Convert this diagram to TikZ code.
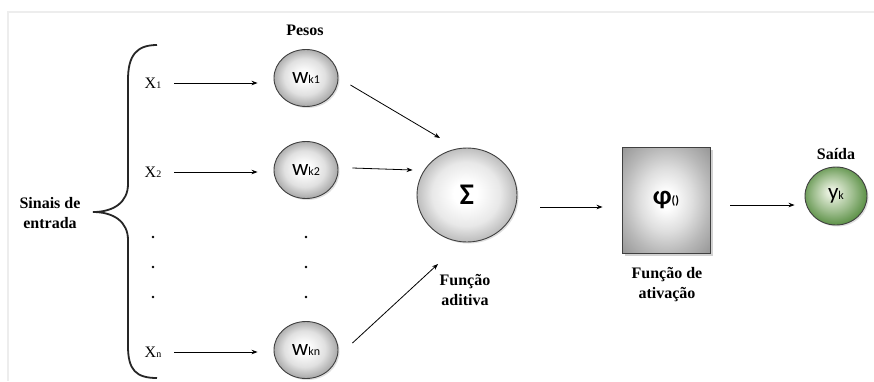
\documentclass[tikz,border=0pt]{standalone}
\usepackage{fontspec}
\setmainfont{Liberation Serif}
\newfontfamily\calibf{Carlito}
\usetikzlibrary{shapes.geometric,shadows,calc,arrows.meta}
\pgfdeclareradialshading{grayball}{\pgfpoint{-2bp}{2bp}}{%
  color(0bp)=(white); color(4bp)=(white); color(16bp)=(black!12); color(25bp)=(black!33); color(35bp)=(black!33)}
\pgfdeclareradialshading{sumball}{\pgfpoint{-1bp}{1bp}}{%
  color(0bp)=(white); color(6bp)=(white); color(17bp)=(black!9); color(25bp)=(black!26); color(35bp)=(black!26)}
\pgfdeclareradialshading{grayrect}{\pgfpoint{0bp}{0bp}}{%
  color(0bp)=(white); color(4bp)=(white); color(15bp)=(black!13); color(25bp)=(black!28); color(36bp)=(black!42)}
\definecolor{gdark}{RGB}{82,138,60}
\definecolor{glight}{RGB}{232,240,222}
\pgfdeclareradialshading{greenball}{\pgfpoint{-4bp}{4bp}}{%
  color(0bp)=(glight); color(3bp)=(glight); color(16bp)=(gdark!50!glight); color(28bp)=(gdark); color(40bp)=(gdark)}
\tikzset{
  lab/.style={font=\fontsize{16}{20}\selectfont\bfseries, align=center, inner sep=0pt},
  xl/.style={font=\fontsize{16}{18}\selectfont, inner sep=0pt},
  wnode/.style={ellipse, draw=black!75, line width=0.9pt, minimum width=64pt, minimum height=57pt, inner sep=0pt,
    shading=grayball, drop shadow={opacity=0.25, shadow xshift=1.5pt, shadow yshift=-1.5pt},
    font=\calibf\fontsize{23}{23}\selectfont},
  sumnode/.style={ellipse, draw=black!75, line width=0.9pt, minimum width=100pt, minimum height=94pt, inner sep=0pt,
    shading=sumball, drop shadow={opacity=0.25, shadow xshift=1.5pt, shadow yshift=-1.5pt},
    font=\calibf\bfseries\fontsize{30}{30}\selectfont},
  boxnode/.style={rectangle, draw=black!75, line width=0.9pt, minimum width=88pt, minimum height=106pt, inner sep=0pt,
    shading=grayrect, drop shadow={opacity=0.35, shadow xshift=2.5pt, shadow yshift=-2.5pt},
    font=\calibf\bfseries\fontsize{27}{27}\selectfont},
  ynode/.style={ellipse, draw=black!75, line width=0.9pt, minimum width=62pt, minimum height=58pt, inner sep=0pt,
    shading=greenball, drop shadow={opacity=0.25, shadow xshift=1.5pt, shadow yshift=-1.5pt},
    font=\calibf\fontsize{23}{23}\selectfont},
  arr/.style={-{Stealth[length=6pt,width=4.5pt]}, line width=0.8pt, black},
  brace/.style={line width=1.8pt, black!85},
  frameline/.style={line width=1.5pt, black!7}
}
\newcommand{\smallsub}[1]{{\fontsize{12}{12}\selectfont #1}}
\newcommand{\xsub}[1]{{\fontsize{10}{10}\selectfont #1}}
\begin{document}
\begin{tikzpicture}[x=1pt,y=-1pt]
\useasboundingbox (0,0) rectangle (874,381);
\fill[white] (0,0) rectangle (874,381);
% faint frame
\draw[frameline] (8,381) -- (8,12) -- (874,12);

% brace
\draw[brace] (157,45) .. controls (136,45) and (128,56) .. (128,80) -- (128,184)
  .. controls (128,202) and (114,212) .. (93,212)
  .. controls (114,212) and (128,222) .. (128,240) -- (128,346)
  .. controls (128,370) and (136,378) .. (157,378);

\node[lab] (sinais) at (50,213) {Sinais de\\entrada};

% inputs
\node[xl] (x1) at (153,83) {X\xsub{1}};
\node[xl] (x2) at (153,172) {X\xsub{2}};
\node[xl] (xn) at (153,352) {X\xsub{n}};
\foreach \yy in {237,267,297} \fill (153,\yy) circle (1.4pt);

% weights
\node[lab] (pesos) at (305,30) {Pesos};
\node[wnode] (w1) at (306,78) {w\smallsub{k1}};
\node[wnode] (w2) at (306,170) {w\smallsub{k2}};
\node[wnode] (wn) at (306,350) {w\smallsub{kn}};
\foreach \yy in {237,267,297} \fill (306,\yy) circle (1.4pt);

% sum
\node[sumnode] (sum) at (467,195) {Σ};
\node[lab] (aditiva) at (465,290) {Função\\aditiva};

% activation
\node[boxnode] (phi) at (666,200) {φ\smallsub{()}};
\node[lab] (ativ) at (667,285) {Função de\\ativação};

% output
\node[lab] (saida) at (836,154) {Saída};
\node[ynode] (y) at (836,196) {y\smallsub{k}};

% connectors
\draw[arr, shorten <=13pt, shorten >=16pt] (x1.east) -- (x1.east -| w1.west);
\draw[arr, shorten <=13pt, shorten >=16pt] (x2.east) -- (x2.east -| w2.west);
\draw[arr, shorten <=13pt, shorten >=16pt] (xn.east) -- (xn.east -| wn.west);

\draw[arr] ($(w1.east)+(12,7)$) -- ($(sum)+(-27,-57)$);
\draw[arr] ($(w2.east)+(14,-2)$) -- ($(sum.west)+(-4,-25)$);
\draw[arr] ($(wn.east)+(14,-7)$) -- ($(sum)+(-29,69)$);

\draw[arr] ($(sum.east)+(23,12)$) -- ($(phi.west)+(-19,7)$);
\draw[arr] ($(phi.east)+(20,5)$) -- ($(y.west)+(-10,9)$);
\end{tikzpicture}
\end{document}
